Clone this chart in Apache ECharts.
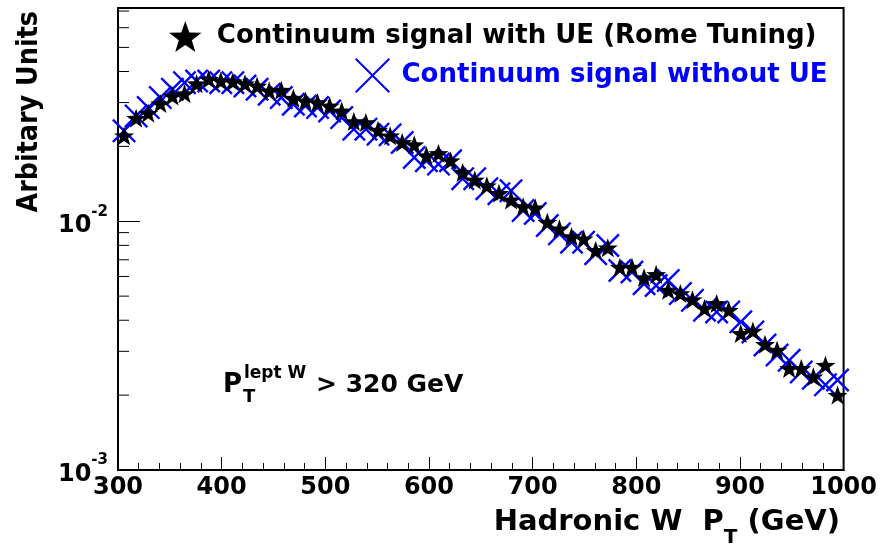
<!DOCTYPE html>
<html>
<head>
<meta charset="utf-8">
<script src="https://cdn.jsdelivr.net/npm/echarts@6/dist/echarts.min.js"></script>
<style>
  html, body { margin: 0; padding: 0; background: #fff; }
  #chart { width: 880px; height: 546px; }
</style>
</head>
<body>
<div id="chart"></div>
<script>
// Hadronic W pT histogram: 60 bins from 300 to 1000 GeV (bin centres)
const binCentres = [
  305.83, 317.50, 329.17, 340.83, 352.50, 364.17, 375.83, 387.50, 399.17, 410.83,
  422.50, 434.17, 445.83, 457.50, 469.17, 480.83, 492.50, 504.17, 515.83, 527.50,
  539.17, 550.83, 562.50, 574.17, 585.83, 597.50, 609.17, 620.83, 632.50, 644.17,
  655.83, 667.50, 679.17, 690.83, 702.50, 714.17, 725.83, 737.50, 749.17, 760.83,
  772.50, 784.17, 795.83, 807.50, 819.17, 830.83, 842.50, 854.17, 865.83, 877.50,
  889.17, 900.83, 912.50, 924.17, 935.83, 947.50, 959.17, 970.83, 982.50, 994.17
];

// Normalised continuum signal with the underlying event (Rome tuning)
const withUE = [
  0.02206, 0.02597, 0.02720, 0.02971, 0.03190, 0.03258, 0.03573, 0.03721, 0.03663, 0.03639,
  0.03573, 0.03498, 0.03340, 0.03362, 0.03124, 0.03047, 0.02999, 0.02909, 0.02778, 0.02517,
  0.02494, 0.02324, 0.02206, 0.02073, 0.02030, 0.01834, 0.01873, 0.01751, 0.01572, 0.01465,
  0.01390, 0.01295, 0.01218, 0.01145, 0.01132, 0.00991, 0.00932, 0.00868, 0.00850, 0.00763,
  0.00782, 0.00654, 0.00654, 0.00593, 0.00611, 0.00528, 0.00512, 0.00484, 0.00446, 0.00467,
  0.00439, 0.00354, 0.00362, 0.00320, 0.00303, 0.00256, 0.00256, 0.00237, 0.00264, 0.00200
];

// Normalised continuum signal without the underlying event
const withoutUE = [
  0.02309, 0.02652, 0.02863, 0.03141, 0.03394, 0.03607, 0.03664, 0.03664, 0.03607, 0.03607,
  0.03499, 0.03394, 0.03240, 0.03141, 0.02954, 0.02909, 0.02863, 0.02778, 0.02611, 0.02346,
  0.02346, 0.02240, 0.02226, 0.02073, 0.01805, 0.01751, 0.01698, 0.01751, 0.01483, 0.01483,
  0.01352, 0.01291, 0.01327, 0.01104, 0.01074, 0.00961, 0.00890, 0.00824, 0.00824, 0.00740,
  0.00799, 0.00634, 0.00625, 0.00561, 0.00552, 0.00578, 0.00512, 0.00481, 0.00439, 0.00432,
  0.00432, 0.00394, 0.00359, 0.00318, 0.00290, 0.00276, 0.00248, 0.00234, 0.00220, 0.00230
];

// Minor tick positions on the logarithmic y axis
const yMinorTicks = [
  0.002, 0.003, 0.004, 0.005, 0.006, 0.007, 0.008, 0.009,
  0.02, 0.03, 0.04, 0.05, 0.06, 0.07
];

const seriesNames = ['Continuum signal with UE (Rome Tuning)', 'Continuum signal without UE'];

const FONT = '"DejaVu Sans", Verdana, sans-serif';
const BLUE = '#0000ff';
const STAR = 'path://M50 0L61.76 33.82L97.55 34.55L69.02 56.18L79.39 90.45L50 70L20.61 90.45L30.98 56.18L2.45 34.55L38.24 33.82Z';
const CROSS = 'path://M0 7L7 0L50 43L93 0L100 7L57 50L100 93L93 100L50 57L7 100L0 93L43 50Z';
const CROSS_THIN = 'path://M0 4L4 0L50 46L96 0L100 4L54 50L100 96L96 100L50 54L4 100L0 96L46 50Z';

const pairs = (xs, ys) => xs.map((x, i) => [x, ys[i]]);

const chart = echarts.init(document.getElementById('chart'), null, { renderer: 'canvas' });

const plainText = (x, y, text, size, align) => ({
  type: 'text', x: x, y: y,
  style: {
    text: text, fill: '#000', font: 'bold ' + size + 'px ' + FONT,
    align: align, verticalAlign: 'middle', textAlign: align, textVerticalAlign: 'middle'
  }
});

chart.setOption({
  animation: false,
  backgroundColor: '#fff',
  grid: {
    left: 118, right: 34, top: 8, bottom: 76,
    show: true, borderColor: '#000', borderWidth: 2, backgroundColor: 'transparent'
  },
  legend: [
    {
      data: [{ name: seriesNames[0], icon: STAR, textStyle: { color: '#000' } }],
      left: 164, top: 16, itemWidth: 33, itemHeight: 31, selectedMode: false,
      itemStyle: { opacity: 1 },
      textStyle: { fontFamily: FONT, fontWeight: 'bold', fontSize: 26, padding: [0, 0, 0, 10] }
    },
    {
      data: [{ name: seriesNames[1], icon: CROSS_THIN, textStyle: { color: BLUE } }],
      left: 350, top: 53, itemWidth: 36, itemHeight: 35, selectedMode: false,
      itemStyle: { opacity: 1 },
      textStyle: { fontFamily: FONT, fontWeight: 'bold', fontSize: 26, padding: [0, 0, 0, 6] }
    }
  ],
  xAxis: {
    type: 'value', min: 300, max: 1000, interval: 100,
    axisLine: { lineStyle: { color: '#000', width: 2 } },
    axisTick: { inside: true, length: 13, lineStyle: { color: '#000', width: 1 } },
    minorTick: { show: true, splitNumber: 5, length: 7, lineStyle: { color: '#000', width: 1 } },
    splitLine: { show: false },
    axisLabel: {
      color: '#000', fontFamily: FONT, fontWeight: 'bold', fontSize: 24, margin: 6,
      formatter: v => String(v)
    }
  },
  yAxis: {
    type: 'log', logBase: 10, min: 0.001, max: 0.072,
    axisLine: { lineStyle: { color: '#000', width: 2 } },
    axisTick: { inside: true, length: 22, lineStyle: { color: '#000', width: 1 } },
    splitLine: { show: false },
    axisLabel: {
      margin: 10,
      formatter: function (v) {
        const lg = Math.log10(v);
        const e = Math.round(lg);
        if (Math.abs(lg - e) > 1e-6) return '';
        return '{b|10}{s|' + e + '}';
      },
      rich: {
        b: { color: '#000', fontFamily: FONT, fontWeight: 'bold', fontSize: 24, lineHeight: 34, verticalAlign: 'bottom' },
        s: { color: '#000', fontFamily: FONT, fontWeight: 'bold', fontSize: 15, lineHeight: 34, verticalAlign: 'top' }
      }
    }
  },
  series: [
    {
      type: 'custom', name: 'yMinorTicks', silent: true, clip: false, z: 1,
      data: yMinorTicks.map(v => [300, v]),
      renderItem: function (params, api) {
        const p = api.coord([api.value(0), api.value(1)]);
        return {
          type: 'line',
          shape: { x1: p[0], y1: p[1], x2: p[0] + 11, y2: p[1] },
          style: { stroke: '#000', lineWidth: 1 }
        };
      }
    },
    {
      type: 'scatter', name: seriesNames[1], z: 2, silent: true,
      symbol: CROSS, symbolSize: 24,
      itemStyle: { color: BLUE, opacity: 1 },
      data: pairs(binCentres, withoutUE)
    },
    {
      type: 'scatter', name: seriesNames[0], z: 3, silent: true,
      symbol: STAR, symbolSize: [20, 19],
      itemStyle: { color: '#000', opacity: 1 },
      data: pairs(binCentres, withUE)
    }
  ],
  graphic: [
    {
      type: 'text', x: 30, y: 11, rotation: Math.PI / 2, scaleX: 0.91,
      style: {
        text: 'Arbitary Units', fill: '#000',
        font: 'bold 28px ' + FONT, align: 'right', verticalAlign: 'middle',
        textAlign: 'right', textVerticalAlign: 'middle'
      }
    },
    {
      type: 'text', x: 840, y: 508,
      style: {
        text: '{a|Hadronic W  P}{s|T}{a| (GeV)}',
        align: 'right', verticalAlign: 'top', textAlign: 'right', textVerticalAlign: 'top',
        rich: {
          a: { fill: '#000', font: 'bold 29px ' + FONT, lineHeight: 40, verticalAlign: 'top' },
          s: { fill: '#000', font: 'bold 20px ' + FONT, lineHeight: 40, verticalAlign: 'bottom' }
        }
      }
    },
    plainText(223, 385, 'P', 26, 'left'),
    plainText(243, 397, 'T', 18, 'left'),
    plainText(244, 374, 'lept W', 17, 'left'),
    plainText(316, 385, '> 320 GeV', 25, 'left')
  ]
});
</script>
</body>
</html>
